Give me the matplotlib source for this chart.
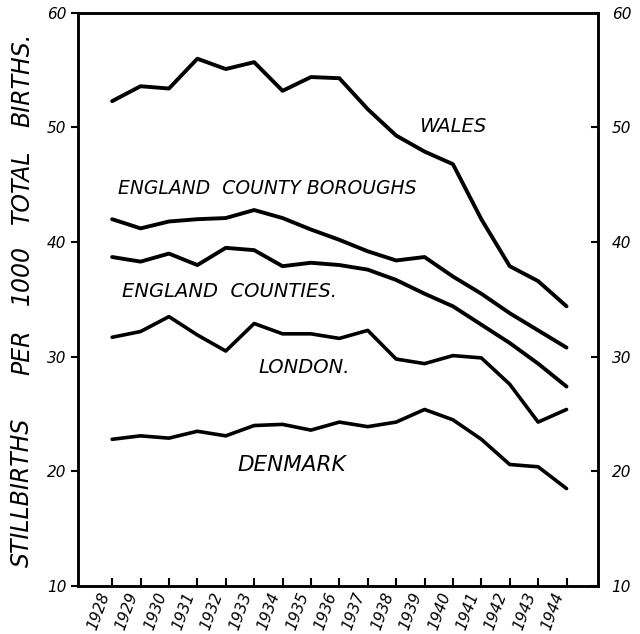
import matplotlib
matplotlib.use("Agg")
import matplotlib.pyplot as plt

years = list(range(1928, 1945))
year_labels = [str(y) for y in years]

wales = [52.3, 53.6, 53.4, 56.0, 55.1, 55.7, 53.2, 54.4, 54.3, 51.6, 49.3, 47.9, 46.8, 42.0, 37.9, 36.6, 34.4]
county_boroughs = [42.0, 41.2, 41.8, 42.0, 42.1, 42.8, 42.1, 41.1, 40.2, 39.2, 38.4, 38.7, 37.0, 35.5, 33.8, 32.3, 30.8]
counties = [38.7, 38.3, 39.0, 38.0, 39.5, 39.3, 37.9, 38.2, 38.0, 37.6, 36.7, 35.5, 34.4, 32.8, 31.2, 29.4, 27.4]
london = [31.7, 32.2, 33.5, 31.9, 30.5, 32.9, 32.0, 32.0, 31.6, 32.3, 29.8, 29.4, 30.1, 29.9, 27.6, 24.3, 25.4]
denmark = [22.8, 23.1, 22.9, 23.5, 23.1, 24.0, 24.1, 23.6, 24.3, 23.9, 24.3, 25.4, 24.5, 22.8, 20.6, 20.4, 18.5]

series_labels = ["WALES", "ENGLAND  COUNTY BOROUGHS", "ENGLAND  COUNTIES.", "LONDON.", "DENMARK"]
y_ticks = [10, 20, 30, 40, 50, 60]
ylabel_words = ["STILLBIRTHS", "PER", "1000", "TOTAL", "BIRTHS."]

fig = plt.figure(figsize=(6.4, 6.34), dpi=100)
ax = fig.add_axes([0.122, 0.0757, 0.812, 0.904])

widths = [2.8, 2.8, 2.8, 2.6, 2.6]
for s, w in zip([wales, county_boroughs, counties, london, denmark], widths):
    ax.plot(years, s, color="black", lw=w, solid_joinstyle="round", solid_capstyle="round")

ax.set_xlim(1926.8, 1945.1)
ax.set_ylim(10, 60)

ax.set_xticks(years)
ax.set_xticklabels(year_labels, rotation=70, ha="right", va="top", fontsize=11, style="italic")
ax.tick_params(axis="x", direction="in", length=6, width=1.5, pad=3)

ax.set_yticks(y_ticks)
ax.set_yticklabels([str(v) for v in y_ticks], fontsize=11, style="italic")
ax.tick_params(axis="y", which="both", direction="out", length=5, width=1.5, left=True, right=False)

ax2 = ax.twinx()
ax2.set_ylim(10, 60)
ax2.set_yticks(y_ticks)
ax2.set_yticklabels([str(v) for v in y_ticks], fontsize=11, style="italic")
ax2.tick_params(axis="y", direction="in", length=5, width=1.5, pad=10)

for a in (ax, ax2):
    for sp in a.spines.values():
        sp.set_linewidth(1.8)

label_pos = [(1940.0, 50.05, "center"), (1928.2, 44.7, "left"), (1928.35, 35.65, "left"),
             (1933.15, 29.1, "left"), (1932.4, 20.55, "left")]
label_sizes = [14, 13.5, 14, 14, 15.5]
for txt, (x, y, ha), fs in zip(series_labels, label_pos, label_sizes):
    ax.text(x, y, txt, fontsize=fs, style="italic", ha=ha, va="center")

word_y = [492, 352, 275, 187, 80]
for wd, py in zip(ylabel_words, word_y):
    fig.text(22 / 640, 1 - py / 634, wd, rotation=90, fontsize=17, style="italic",
             ha="center", va="center")

fig.savefig("out.png", dpi=100)
